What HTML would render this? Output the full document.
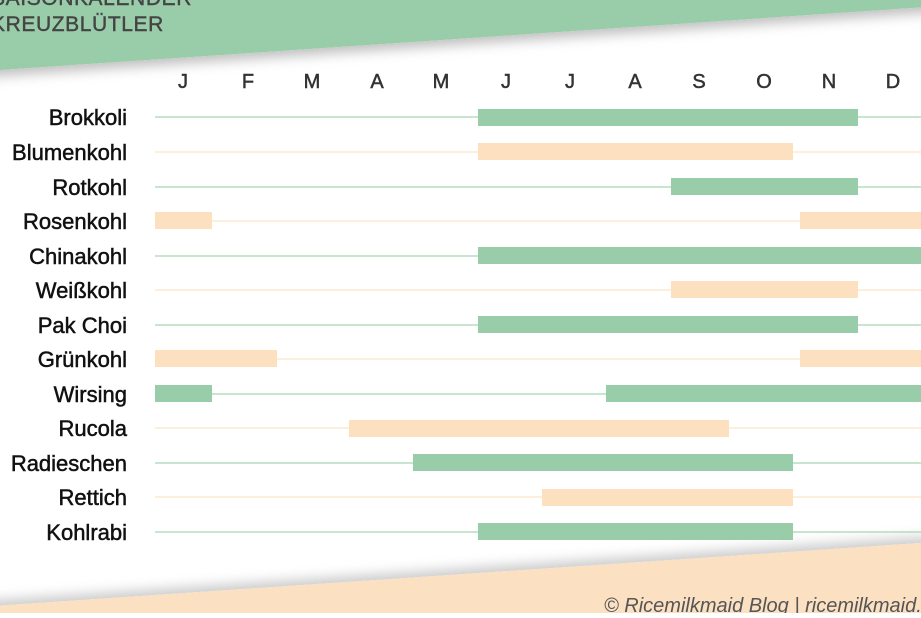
<!DOCTYPE html>
<html><head><meta charset="utf-8"><style>
body{margin:0;width:921px;height:613px;overflow:hidden;background:#fff;font-family:"Liberation Sans",sans-serif}
</style></head><body>
<svg width="921" height="613" xmlns="http://www.w3.org/2000/svg">
<defs>
<filter id="sh" x="-10%" y="-50%" width="120%" height="200%"><feDropShadow dx="0" dy="6" stdDeviation="6" flood-color="#000" flood-opacity="0.25"/></filter>
<filter id="sh2" x="-10%" y="-50%" width="120%" height="200%"><feDropShadow dx="0" dy="-6" stdDeviation="6" flood-color="#000" flood-opacity="0.2"/></filter>
</defs>
<polygon points="-20,-20 941,-20 941,6 0,70 -20,72" fill="#99cca8" filter="url(#sh)"/>
<polygon points="-20,607 921,543 941,543 941,640 -20,640" fill="#fce0c2" filter="url(#sh2)"/>
<g fill="#444" font-size="21" letter-spacing="0.6" stroke="#444" stroke-width="0.4">
<text x="-9" y="5">SAISONKALENDER</text>
<text x="-9" y="31">KREUZBLÜTLER</text>
</g>
<g fill="#333" font-size="20" text-anchor="middle" stroke="#333" stroke-width="0.5">
<text x="183" y="88">J</text><text x="248" y="88">F</text><text x="312" y="88">M</text><text x="377" y="88">A</text><text x="441" y="88">M</text><text x="506" y="88">J</text><text x="570" y="88">J</text><text x="635" y="88">A</text><text x="699" y="88">S</text><text x="764" y="88">O</text><text x="829" y="88">N</text><text x="893" y="88">D</text>
</g>
<g font-size="22" fill="#111" text-anchor="end" stroke="#111" stroke-width="0.5">
<text x="127" y="125">Brokkoli</text>
<text x="127" y="160">Blumenkohl</text>
<text x="127" y="195">Rotkohl</text>
<text x="127" y="229">Rosenkohl</text>
<text x="127" y="264">Chinakohl</text>
<text x="127" y="298">Weißkohl</text>
<text x="127" y="333">Pak Choi</text>
<text x="127" y="367">Grünkohl</text>
<text x="127" y="402">Wirsing</text>
<text x="127" y="436">Rucola</text>
<text x="127" y="471">Radieschen</text>
<text x="127" y="505">Rettich</text>
<text x="127" y="540">Kohlrabi</text>
</g>
<g stroke-width="1.2">
<line x1="155" x2="921" y1="117" y2="117" stroke="#a8d5b5"/>
<line x1="155" x2="921" y1="152" y2="152" stroke="#fde3c8"/>
<line x1="155" x2="921" y1="187" y2="187" stroke="#a8d5b5"/>
<line x1="155" x2="921" y1="221" y2="221" stroke="#fde3c8"/>
<line x1="155" x2="921" y1="256" y2="256" stroke="#a8d5b5"/>
<line x1="155" x2="921" y1="290" y2="290" stroke="#fde3c8"/>
<line x1="155" x2="921" y1="325" y2="325" stroke="#a8d5b5"/>
<line x1="155" x2="921" y1="359" y2="359" stroke="#fde3c8"/>
<line x1="155" x2="921" y1="394" y2="394" stroke="#a8d5b5"/>
<line x1="155" x2="921" y1="428" y2="428" stroke="#fde3c8"/>
<line x1="155" x2="921" y1="463" y2="463" stroke="#a8d5b5"/>
<line x1="155" x2="921" y1="497" y2="497" stroke="#fde3c8"/>
<line x1="155" x2="921" y1="532" y2="532" stroke="#a8d5b5"/>
</g>
<g fill="#99cca8">
<rect x="478" y="109" width="380" height="17"/>
<rect x="671" y="178" width="187" height="17"/>
<rect x="478" y="247" width="443" height="17"/>
<rect x="478" y="316" width="380" height="17"/>
<rect x="155" y="385" width="57" height="17"/>
<rect x="606" y="385" width="315" height="17"/>
<rect x="413" y="454" width="380" height="17"/>
<rect x="478" y="523" width="315" height="17"/>
</g>
<g fill="#fde0c0">
<rect x="478" y="143" width="315" height="17"/>
<rect x="155" y="212" width="57" height="17"/>
<rect x="800" y="212" width="121" height="17"/>
<rect x="671" y="281" width="187" height="17"/>
<rect x="155" y="350" width="122" height="17"/>
<rect x="800" y="350" width="121" height="17"/>
<rect x="349" y="420" width="380" height="17"/>
<rect x="542" y="489" width="251" height="17"/>
</g>
<text x="604" y="612" font-size="20" font-style="italic" fill="#555">© Ricemilkmaid Blog | ricemilkmaid.</text>
</svg>
</body></html>
